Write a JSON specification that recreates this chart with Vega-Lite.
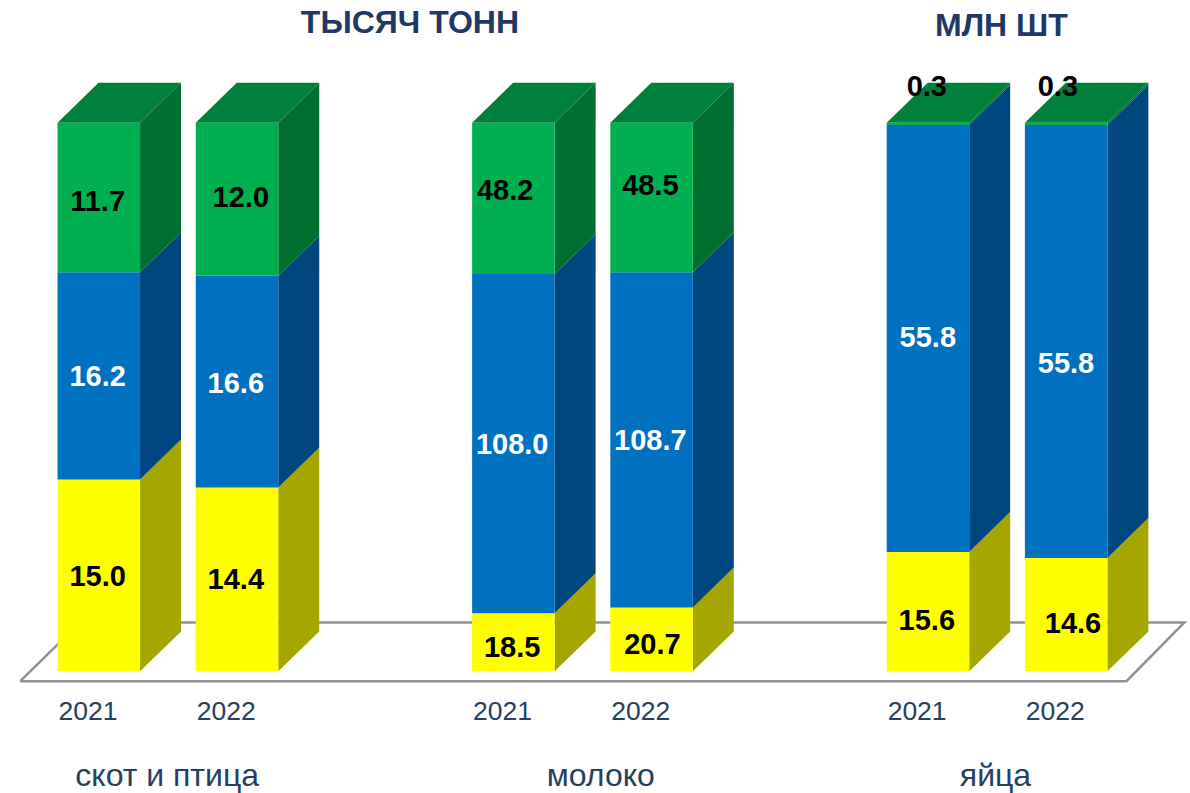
{
"$schema":"https://vega.github.io/schema/vega-lite/v6.json",
"width":1190,"height":793,
"autosize":{"type":"fit","contains":"padding"},
"padding":0,
"background":"white",
"config":{"view":{"stroke":null},"font":"Liberation Sans"},
"resolve":{"scale":{"color":"independent"}},
"layer":[
{"data":{"values":[{"i":0,"fx":-0.27,"fy":-0.018},{"i":1,"fx":7.735,"fy":-0.018},{"i":2,"fx":8.154,"fy":0.089},{"i":3,"fx":0.164,"fy":0.089},{"i":4,"fx":-0.27,"fy":-0.018}]},
 "mark":{"type":"line","stroke":"#919191","strokeWidth":2.5,"strokeJoin":"miter"},
 "encoding":{
  "x":{"field":"fx","type":"quantitative","axis":null,"scale":{"domain":[-0.4165,8.1875],"nice":false,"zero":false}},
  "y":{"field":"fy","type":"quantitative","axis":null,"scale":{"domain":[-0.2182,1.2236],"nice":false,"zero":false}},
  "order":{"field":"i"}}},
{"data":{"name":"rows"},
 "transform":[
  {"calculate":"indexof(['скот и птица','молоко','яйца'],datum.group)*3+datum.year-2021","as":"slot"},
  {"calculate":"indexof(['нижний','средний','верхний'],datum.layer)+1","as":"order"},
  {"stack":"value","groupby":["slot"],"sort":[{"field":"order","order":"ascending"}],"offset":"normalize","as":["s0","s1"]},
  {"calculate":"[0,1]","as":"d"},{"flatten":["d"]},
  {"calculate":"datum.slot+0.597+datum.d*0.2965","as":"sx"},
  {"calculate":"datum.s0+datum.d*0.0727","as":"sy0"},
  {"calculate":"datum.s1+datum.d*0.0727","as":"sy1"},
  {"calculate":"datum.slot+'-'+datum.layer","as":"key"}],
 "mark":{"type":"area","interpolate":"linear"},
 "encoding":{
  "x":{"field":"sx","type":"quantitative","axis":null,"scale":{"domain":[-0.4165,8.1875],"nice":false,"zero":false}},
  "y":{"field":"sy0","type":"quantitative","stack":null,"axis":null,"scale":{"domain":[-0.2182,1.2236],"nice":false,"zero":false}},
  "y2":{"field":"sy1"},
  "detail":{"field":"key"},
  "color":{"field":"layer","type":"nominal","legend":null,"scale":{"domain":["нижний","средний","верхний"],"range":["#A6A600","#00467F","#006F2F"]}}}},
{"data":{"name":"rows"},
 "transform":[
  {"calculate":"indexof(['скот и птица','молоко','яйца'],datum.group)*3+datum.year-2021","as":"slot"},
  {"calculate":"indexof(['нижний','средний','верхний'],datum.layer)+1","as":"order"},
  {"stack":"value","groupby":["slot"],"sort":[{"field":"order","order":"ascending"}],"offset":"normalize","as":["s0","s1"]},
  {"filter":"datum.order==3"},
  {"calculate":"[0,1]","as":"d"},{"flatten":["d"]},
  {"calculate":"datum.slot+datum.d*0.2965","as":"tx0"},
  {"calculate":"datum.slot+0.597+datum.d*0.2965","as":"tx1"},
  {"calculate":"datum.s1+datum.d*0.0727","as":"ty"}],
 "mark":{"type":"area","orient":"horizontal","color":"#00803A","interpolate":"linear"},
 "encoding":{
  "y":{"field":"ty","type":"quantitative","stack":null,"axis":null,"scale":{"domain":[-0.2182,1.2236],"nice":false,"zero":false}},
  "x":{"field":"tx0","type":"quantitative","stack":null,"axis":null,"scale":{"domain":[-0.4165,8.1875],"nice":false,"zero":false}},
  "x2":{"field":"tx1"},
  "detail":{"field":"slot"}}},
{"data":{"name":"rows"},
 "transform":[
  {"calculate":"indexof(['скот и птица','молоко','яйца'],datum.group)*3+datum.year-2021","as":"slot"},
  {"calculate":"indexof(['нижний','средний','верхний'],datum.layer)+1","as":"order"},
  {"stack":"value","groupby":["slot"],"sort":[{"field":"order","order":"ascending"}],"offset":"normalize","as":["s0","s1"]},
  {"calculate":"datum.slot+0.597","as":"bx1"}],
 "mark":{"type":"rect"},
 "encoding":{
  "x":{"field":"slot","type":"quantitative","axis":null,"scale":{"domain":[-0.4165,8.1875],"nice":false,"zero":false}},
  "x2":{"field":"bx1"},
  "y":{"field":"s0","type":"quantitative","axis":null,"scale":{"domain":[-0.2182,1.2236],"nice":false,"zero":false}},
  "y2":{"field":"s1"},
  "color":{"field":"layer","type":"nominal","legend":null,"scale":{"domain":["нижний","средний","верхний"],"range":["#FFFF00","#0070C0","#00B050"]}}}},
{"data":{"name":"rows"},
 "transform":[
  {"calculate":"indexof(['скот и птица','молоко','яйца'],datum.group)*3+datum.year-2021","as":"slot"},
  {"calculate":"indexof(['нижний','средний','верхний'],datum.layer)+1","as":"order"},
  {"stack":"value","groupby":["slot"],"sort":[{"field":"order","order":"ascending"}],"offset":"normalize","as":["s0","s1"]},
  {"calculate":"datum.slot+0.29+[[0,0,0],[0,0,5],[],[0,0,-7],[2,0,0],[],[0,1,0],[8,1,-7]][datum.slot][datum.order-1]/138","as":"lx"},
  {"calculate":"(datum.s0+datum.s1)/2-[[2,1,5],[1,2,-1],[],[6,1,-7],[6,1,-11],[],[9,0,-37],[9,23,-37]][datum.slot][datum.order-1]/550","as":"ly"}],
 "mark":{"type":"text","fontSize":29,"fontWeight":"bold","align":"center","baseline":"middle"},
 "encoding":{
  "x":{"field":"lx","type":"quantitative","axis":null,"scale":{"domain":[-0.4165,8.1875],"nice":false,"zero":false}},
  "y":{"field":"ly","type":"quantitative","axis":null,"scale":{"domain":[-0.2182,1.2236],"nice":false,"zero":false}},
  "text":{"field":"value","type":"quantitative","format":".1f"},
  "color":{"condition":{"test":"datum.layer=='средний'","value":"#FFFFFF"},"value":"#000000"}}},
{"data":{"name":"rows"},
 "transform":[
  {"filter":"datum.layer=='нижний'"},
  {"calculate":"indexof(['скот и птица','молоко','яйца'],datum.group)*3+datum.year-2021+0.22","as":"yx"}],
 "mark":{"type":"text","fontSize":26.5,"align":"center","baseline":"middle","color":"#254061"},
 "encoding":{
  "x":{"field":"yx","type":"quantitative","axis":null,"scale":{"domain":[-0.4165,8.1875],"nice":false,"zero":false}},
  "y":{"datum":-0.0745,"type":"quantitative","axis":null,"scale":{"domain":[-0.2182,1.2236],"nice":false,"zero":false}},
  "text":{"field":"year","type":"nominal"}}},
{"data":{"name":"rows"},
 "transform":[
  {"filter":"datum.layer=='нижний' && datum.year==2021"},
  {"calculate":"indexof(['скот и птица','молоко','яйца'],datum.group)*3+[0.793,0.931,0.787][indexof(['скот и птица','молоко','яйца'],datum.group)]","as":"gx"}],
 "mark":{"type":"text","fontSize":32,"align":"center","baseline":"middle","color":"#254061"},
 "encoding":{
  "x":{"field":"gx","type":"quantitative","axis":null,"scale":{"domain":[-0.4165,8.1875],"nice":false,"zero":false}},
  "y":{"datum":-0.191,"type":"quantitative","axis":null,"scale":{"domain":[-0.2182,1.2236],"nice":false,"zero":false}},
  "text":{"field":"group","type":"nominal"}}},
{"data":{"values":[{"unit":"ТЫСЯЧ ТОНН"}]},
 "mark":{"type":"text","fontSize":32,"fontWeight":"bold","align":"center","baseline":"middle","color":"#1F3864"},
 "encoding":{
  "x":{"datum":2.55,"type":"quantitative","axis":null,"scale":{"domain":[-0.4165,8.1875],"nice":false,"zero":false}},
  "y":{"datum":1.182,"type":"quantitative","axis":null,"scale":{"domain":[-0.2182,1.2236],"nice":false,"zero":false}},
  "text":{"field":"unit","type":"nominal"}}},
{"data":{"values":[{"unit":"МЛН ШТ"}]},
 "mark":{"type":"text","fontSize":32,"fontWeight":"bold","align":"center","baseline":"middle","color":"#1F3864"},
 "encoding":{
  "x":{"datum":6.83,"type":"quantitative","axis":null,"scale":{"domain":[-0.4165,8.1875],"nice":false,"zero":false}},
  "y":{"datum":1.176,"type":"quantitative","axis":null,"scale":{"domain":[-0.2182,1.2236],"nice":false,"zero":false}},
  "text":{"field":"unit","type":"nominal"}}}
],
"datasets":{"rows":[
{"group":"скот и птица","year":2021,"layer":"нижний","value":15.0},
{"group":"скот и птица","year":2021,"layer":"средний","value":16.2},
{"group":"скот и птица","year":2021,"layer":"верхний","value":11.7},
{"group":"скот и птица","year":2022,"layer":"нижний","value":14.4},
{"group":"скот и птица","year":2022,"layer":"средний","value":16.6},
{"group":"скот и птица","year":2022,"layer":"верхний","value":12.0},
{"group":"молоко","year":2021,"layer":"нижний","value":18.5},
{"group":"молоко","year":2021,"layer":"средний","value":108.0},
{"group":"молоко","year":2021,"layer":"верхний","value":48.2},
{"group":"молоко","year":2022,"layer":"нижний","value":20.7},
{"group":"молоко","year":2022,"layer":"средний","value":108.7},
{"group":"молоко","year":2022,"layer":"верхний","value":48.5},
{"group":"яйца","year":2021,"layer":"нижний","value":15.6},
{"group":"яйца","year":2021,"layer":"средний","value":55.8},
{"group":"яйца","year":2021,"layer":"верхний","value":0.3},
{"group":"яйца","year":2022,"layer":"нижний","value":14.6},
{"group":"яйца","year":2022,"layer":"средний","value":55.8},
{"group":"яйца","year":2022,"layer":"верхний","value":0.3}
]}
}
